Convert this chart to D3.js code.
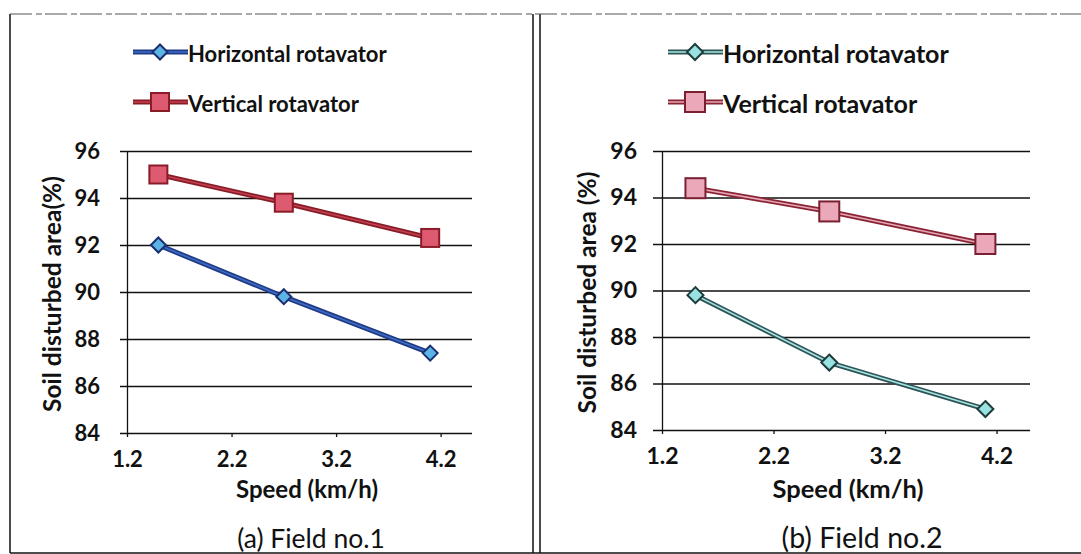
<!DOCTYPE html>
<html>
<head>
<meta charset="utf-8">
<script src="https://cdn.jsdelivr.net/npm/d3@7"></script>
<style>
  body { margin: 0; background: #fff; }
  svg { display: block; font-family: Lato, "Open Sans", sans-serif; }
</style>
</head>
<body>
<svg id="chart" width="1081" height="554"></svg>
<script>
// data
var speeds = [1.5, 2.7, 4.1];
var field1Horizontal = [92.0, 89.8, 87.4];
var field1Vertical = [95.0, 93.8, 92.3];
var field2Horizontal = [89.8, 86.9, 84.9];
var field2Vertical = [94.4, 93.4, 92.0];
var seriesNames = ["Horizontal rotavator", "Vertical rotavator"];
var xTicks = [1.2, 2.2, 3.2, 4.2];
var yTicks = [84, 86, 88, 90, 92, 94, 96];
var xDomain = [1.2, 4.5];
var yDomain = [84, 96];

var svg = d3.select("#chart");

// frame round the two panels
var frame = svg.append("g").attr("fill", "none").attr("stroke", "#111");
frame.append("line").attr("x1", 10).attr("x2", 10).attr("y1", 14).attr("y2", 553).attr("stroke-width", 1.5);
frame.append("line").attr("x1", 533).attr("x2", 533).attr("y1", 14).attr("y2", 553).attr("stroke-width", 1.5);
frame.append("line").attr("x1", 540).attr("x2", 540).attr("y1", 14).attr("y2", 553).attr("stroke-width", 1.5);
frame.append("line").attr("x1", 10).attr("x2", 1081).attr("y1", 14).attr("y2", 14)
  .attr("stroke-width", 1.2).attr("stroke-dasharray", "22,4,6,3").attr("stroke", "#555");
frame.append("line").attr("x1", 10).attr("x2", 1081).attr("y1", 553).attr("y2", 553).attr("stroke-width", 1.5);

var panels = [
  {
    left: 127, right: 472, top: 151, bottom: 433, legX: 133, gridOut: 7, yPad: 27,
    tickFont: 22, legFont: 22, yTitleFont: 24.5, xTitleFont: 24, capFont: 26.5,
    yTitle: "Soil disturbed area(%)", yTitleX: 55, caption: "(a)  Field no.1", capX: 311, xTitleX: 307,
    series: [
      {name: seriesNames[0], values: field1Horizontal, shape: "diamond", size: 15,
       outer: "#1f3a86", inner: "#3d6cc4", fill: "#5cb4e6", stroke: "#1b2f6e"},
      {name: seriesNames[1], values: field1Vertical, shape: "square", size: 18,
       outer: "#8a1c28", inner: "#c2404f", fill: "#de5a70", stroke: "#8a1c28"}
    ]
  },
  {
    left: 662, right: 1030, top: 151, bottom: 430, legX: 668, gridOut: 9, yPad: 25,
    tickFont: 23, legFont: 25, yTitleFont: 24.5, xTitleFont: 25.5, capFont: 28.5,
    yTitle: "Soil disturbed area (%)", yTitleX: 590, caption: "(b)  Field no.2", capX: 862, xTitleX: 848,
    series: [
      {name: seriesNames[0], values: field2Horizontal, shape: "diamond", size: 16,
       outer: "#2d5556", inner: "#a8e4e4", fill: "#98e2e2", stroke: "#1f3b3c"},
      {name: seriesNames[1], values: field2Vertical, shape: "square", size: 20,
       outer: "#8a2434", inner: "#e6a6b6", fill: "#eaa8b8", stroke: "#7a2030"}
    ]
  }
];

function drawMarker(g, s, cx, cy) {
  var h = s.size / 2;
  if (s.shape == "square") {
    g.append("rect")
      .attr("x", cx - h).attr("y", cy - h)
      .attr("width", s.size).attr("height", s.size)
      .attr("fill", s.fill).attr("stroke", s.stroke).attr("stroke-width", 2);
  } else {
    g.append("path")
      .attr("d", "M" + cx + "," + (cy - h) + "L" + (cx + h) + "," + cy + "L" + cx + "," + (cy + h) + "L" + (cx - h) + "," + cy + "Z")
      .attr("fill", s.fill).attr("stroke", s.stroke).attr("stroke-width", 2);
  }
}

panels.forEach(function(p) {
  var x = d3.scaleLinear().domain(xDomain).range([p.left, p.right]);
  var y = d3.scaleLinear().domain(yDomain).range([p.bottom, p.top]);
  var g = svg.append("g");

  // gridlines
  g.append("g")
    .attr("transform", "translate(" + p.left + ",0)")
    .call(d3.axisLeft(y).tickValues(yTicks).tickSize(-(p.right - p.left + p.gridOut)).tickFormat(""))
    .call(function(a) {
      a.select(".domain").remove();
      a.selectAll("line").attr("stroke", "#111").attr("stroke-width", 1.3)
        .attr("transform", "translate(" + (-p.gridOut) + ",0)");
    });

  // y axis with labels
  g.append("g")
    .attr("transform", "translate(" + p.left + ",0)")
    .call(d3.axisLeft(y).tickValues(yTicks).tickSize(0).tickPadding(p.yPad))
    .call(function(a) {
      a.select(".domain").attr("stroke", "#111").attr("stroke-width", 1.3);
      a.selectAll("text").attr("font-size", p.tickFont).attr("font-weight", "bold")
        .attr("fill", "#111").attr("font-family", "Lato, sans-serif");
    });

  // x axis
  g.append("g")
    .attr("transform", "translate(0," + p.bottom + ")")
    .call(d3.axisBottom(x).tickValues(xTicks).tickSize(4).tickPadding(14).tickFormat(d3.format(".1f")))
    .call(function(a) {
      a.select(".domain").remove();
      a.selectAll("line").attr("stroke", "#111").attr("stroke-width", 1.3);
      a.selectAll("text").attr("font-size", p.tickFont).attr("font-weight", "bold")
        .attr("fill", "#111").attr("font-family", "Lato, sans-serif");
    });

  // axis titles
  g.append("text")
    .attr("transform", "translate(" + p.yTitleX + "," + ((p.top + p.bottom) / 2 + 2) + ") rotate(-90)")
    .attr("text-anchor", "middle").attr("dominant-baseline", "middle")
    .attr("font-size", p.yTitleFont).attr("font-weight", "bold").attr("fill", "#111")
    .text(p.yTitle);
  g.append("text")
    .attr("x", p.xTitleX).attr("y", 498)
    .attr("text-anchor", "middle")
    .attr("font-size", p.xTitleFont).attr("font-weight", "bold").attr("fill", "#111")
    .text("Speed (km/h)");
  g.append("text")
    .attr("x", p.capX).attr("y", 548)
    .attr("text-anchor", "middle")
    .attr("font-size", p.capFont).attr("fill", "#111")
    .text(p.caption);

  // series
  p.series.forEach(function(s) {
    var pts = speeds.map(function(v, i) { return [x(v), y(s.values[i])]; });
    var line = d3.line();
    g.append("path").attr("d", line(pts)).attr("fill", "none")
      .attr("stroke", s.outer).attr("stroke-width", 5).attr("stroke-linejoin", "round");
    g.append("path").attr("d", line(pts)).attr("fill", "none")
      .attr("stroke", s.inner).attr("stroke-width", 1.6).attr("stroke-linejoin", "round");
    pts.forEach(function(pt) { drawMarker(g, s, pt[0], pt[1]); });
  });

  // legend
  p.series.forEach(function(s, i) {
    var ly = 52 + i * 50;
    var lg = g.append("g");
    lg.append("line").attr("x1", p.legX).attr("x2", p.legX + 55).attr("y1", ly).attr("y2", ly)
      .attr("stroke", s.outer).attr("stroke-width", 5);
    lg.append("line").attr("x1", p.legX).attr("x2", p.legX + 55).attr("y1", ly).attr("y2", ly)
      .attr("stroke", s.inner).attr("stroke-width", 1.6);
    drawMarker(lg, s, p.legX + 27, ly);
    lg.append("text").attr("x", p.legX + 55).attr("y", ly + 1)
      .attr("dominant-baseline", "central")
      .attr("font-size", p.legFont).attr("font-weight", "bold").attr("fill", "#111")
      .text(s.name);
  });
});
</script>
</body>
</html>
